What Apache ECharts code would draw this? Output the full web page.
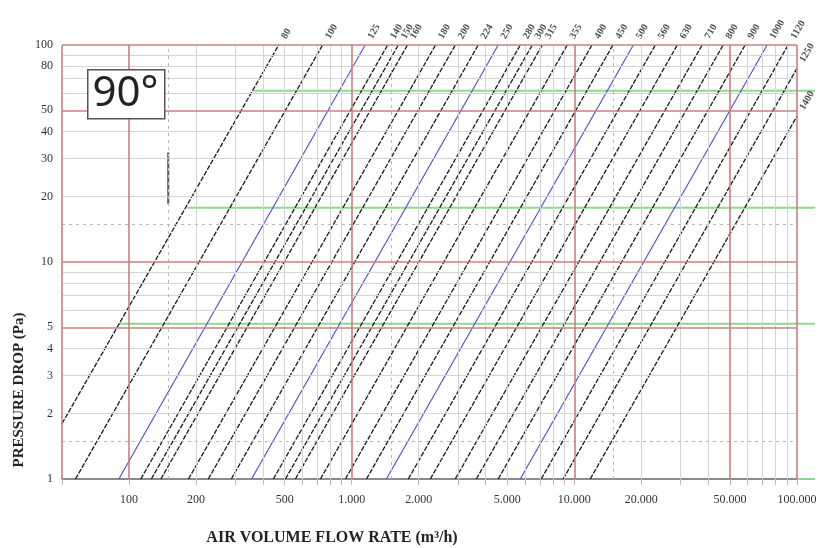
<!DOCTYPE html>
<html>
<head>
<meta charset="utf-8">
<script src="https://cdn.jsdelivr.net/npm/echarts@6/dist/echarts.min.js"></script>
<style>html,body{margin:0;padding:0;background:#fff}#c{width:824px;height:548px}</style>
</head>
<body>
<div id="c"></div>
<script>
// Duct sizes (labels on lines)
const sizes = ['80','100','125','140','150','160','180','200','224','250','280','300','315','355','400','450','500','560','630','710','800','900','1000','1120','1250','1400'];
// start point of each line (flow m3/h, pressure Pa)
const startFlow = [50, 57.5, 90, 113, 126, 139, 185, 227, 288, 355, 445, 504, 559, 724, 937, 1165, 1432, 1796, 2255, 2918, 3630, 4550, 5715, 7100, 8910, 11780];
const startDrop = [1.8, 1, 1, 1, 1, 1, 1, 1, 1, 1, 1, 1, 1, 1, 1, 1, 1, 1, 1, 1, 1, 1, 1, 1, 1, 1];
// end point of each line
const endFlow = [470, 740, 1150, 1450, 1620, 1780, 2380, 2920, 3700, 4550, 5720, 6470, 7180, 9290, 12000, 14900, 18400, 23100, 29000, 37500, 46600, 58500, 73400, 91200, 100000, 100000];
const endDrop = [100, 100, 100, 100, 100, 100, 100, 100, 100, 100, 100, 100, 100, 100, 100, 100, 100, 100, 100, 100, 100, 100, 100, 100, 78, 47];
const blueSizes = ['125','250','500','1000'];

// green reference lines
const greenDrop = [61.5, 17.8, 5.2, 1];
const greenFrom = [362, 183, 90, 100000];
const greenTo = [120000, 120000, 120000, 120000];

// small vertical marker
const markerFlow = [150, 150];
const markerDrop = [32, 18.5];

// tick labels
const xLabelValues = [100, 200, 500, 1000, 2000, 5000, 10000, 20000, 50000, 100000];
const yLabelValues = [1, 2, 3, 4, 5, 10, 20, 30, 40, 50, 80, 100];

// grid lines
const xGray = [200, 300, 400, 500, 600, 700, 800, 900, 2000, 3000, 4000, 5000, 6000, 7000, 8000, 9000, 20000, 30000, 40000, 60000, 70000, 80000, 90000];
const xRed = [50, 100, 1000, 10000, 50000, 100000];
const xDash = [150, 1500, 15000];
const yGray = [2, 3, 4, 6, 7, 8, 9, 20, 30, 40, 60, 70, 80, 90];
const yRed = [5, 10, 50, 100];
const yDash = [1.5, 15];
const xTickValues = xRed.concat(xGray).sort((a, b) => a - b);

const chart = echarts.init(document.getElementById('c'), null, {renderer: 'canvas'});

function fmtX(v) {
  return String(v).replace(/\B(?=(\d{3})+(?!\d))/g, '.');
}

const noLbl = {show: false};
function ml(items, style, z) {
  return {
    type: 'line', data: [], z: z, silent: true, animation: false,
    markLine: {
      silent: true, symbol: ['none', 'none'], label: noLbl, animation: false,
      emphasis: {disabled: true}, lineStyle: style, data: items
    }
  };
}

const series = [];
series.push(ml(xGray.map(v => ({xAxis: v})).concat(yGray.map(v => ({yAxis: v}))),
  {color: '#d4d4d4', width: 1, type: 'solid'}, 1));
series.push(ml(xDash.map(v => ({xAxis: v})).concat(yDash.map(v => ({yAxis: v}))),
  {color: '#b8b8b8', width: 1, type: [3, 4]}, 1));

// green lines (on the wider helper grid so they run past the right border)
for (let i = 0; i < greenDrop.length; i++) {
  series.push({
    type: 'line', z: 2, silent: true, animation: false, showSymbol: false,
    xAxisIndex: 1, yAxisIndex: 1,
    lineStyle: {color: '#8ed88e', width: 2},
    data: [[greenFrom[i], greenDrop[i]], [greenTo[i], greenDrop[i]]]
  });
}

series.push(ml(xRed.map(v => ({xAxis: v})).concat(yRed.map(v => ({yAxis: v}))),
  {color: '#c98080', width: 1.6, type: 'solid'}, 2));

// duct lines
for (let i = 0; i < sizes.length; i++) {
  const blue = blueSizes.indexOf(sizes[i]) >= 0;
  series.push({
    type: 'line', name: sizes[i], z: 3, silent: true, animation: false, showSymbol: false,
    lineStyle: blue ? {color: '#4c4cc8', width: 1.1, type: 'solid'} : {color: '#1a1a1a', width: 1.3, type: [5, 1.5]},
    data: [[startFlow[i], startDrop[i]], [endFlow[i], endDrop[i]]]
  });
}

// marker
series.push({
  type: 'line', z: 3, silent: true, animation: false, showSymbol: false,
  lineStyle: {color: '#555', width: 2},
  data: markerFlow.map((f, i) => [f, markerDrop[i]])
});

// size labels
series.push({
  type: 'scatter', z: 4, silent: true, animation: false, symbolSize: 2, clip: false,
  itemStyle: {color: 'rgba(0,0,0,0)'},
  label: {
    show: true, formatter: p => p.value[2], position: 'inside', rotate: 60,
    align: 'left', verticalAlign: 'middle', offset: [8.5, 1],
    fontFamily: 'Liberation Serif', fontSize: 10, fontWeight: 'bold', color: '#222'
  },
  data: sizes.map((s, i) => [endFlow[i], endDrop[i], s])
});

const lblFont = {fontFamily: 'Liberation Serif', fontSize: 12, color: '#333'};

chart.setOption({
  animation: false,
  grid: [
    {left: 62, right: 27, top: 45, bottom: 69, containLabel: false},
    {left: 62, right: 9, top: 45, bottom: 69, containLabel: false}
  ],
  xAxis: [{
    type: 'log', logBase: 10, min: 50, max: 100000, gridIndex: 0,
    axisLine: {show: true, onZero: false, lineStyle: {color: '#666', width: 1.5}},
    axisTick: {show: true, customValues: xTickValues, length: 6, lineStyle: {color: '#d0b4b4'}},
    axisLabel: Object.assign({customValues: xLabelValues, formatter: v => fmtX(v), margin: 15}, lblFont),
    splitLine: {show: false}, minorTick: {show: false}, minorSplitLine: {show: false}
  }, {
    type: 'log', logBase: 10, min: 50, max: 120000, gridIndex: 1, show: false,
    splitLine: {show: false}
  }],
  yAxis: [{
    type: 'log', logBase: 10, min: 1, max: 100, gridIndex: 0,
    axisLine: {show: false},
    axisTick: {show: false, customValues: yLabelValues},
    axisLabel: Object.assign({customValues: yLabelValues, margin: 9}, lblFont),
    splitLine: {show: false}
  }, {
    type: 'log', logBase: 10, min: 1, max: 100, gridIndex: 1, show: false,
    splitLine: {show: false}
  }],
  graphic: [
    {type: 'rect', left: 87, top: 69, z: 100, shape: {width: 77, height: 49},
      style: {fill: '#fff', stroke: '#555', lineWidth: 1.5}},
    {type: 'text', x: 125.5, y: 94, z: 101,
      style: {text: '90°', font: '42px "Noto Sans"', fill: '#222', align: 'center', verticalAlign: 'middle'}},
    {type: 'text', x: 19, y: 390, rotation: Math.PI / 2, z: 100,
      style: {text: 'PRESSURE DROP (Pa)', font: 'bold 15px "Liberation Serif"', fill: '#222', align: 'center', verticalAlign: 'middle'}},
    {type: 'text', x: 332, y: 538, z: 100,
      style: {text: 'AIR VOLUME FLOW RATE (m³/h)', font: 'bold 16px "Liberation Serif"', fill: '#222', align: 'center', verticalAlign: 'middle'}}
  ],
  series: series
});
</script>
</body>
</html>
